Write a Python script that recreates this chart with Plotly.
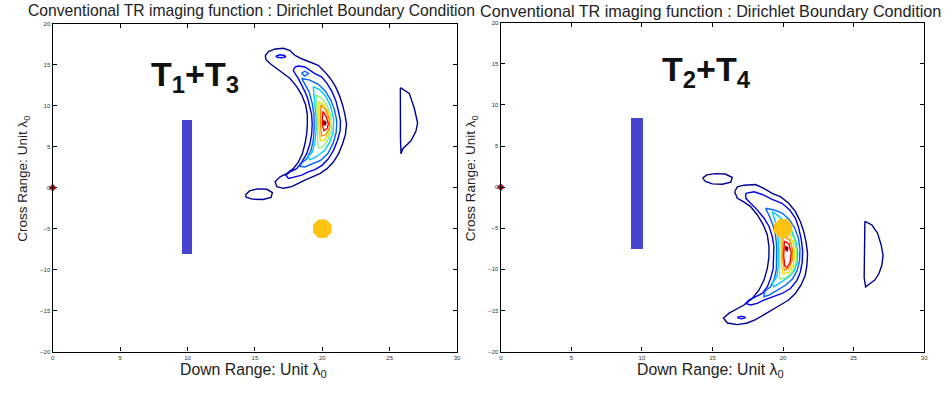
import plotly.graph_objects as go

FONT = "Liberation Sans, Arial, sans-serif"

# Axis ticks (units of wavelength)
X_TICKS = [0, 5, 10, 15, 20, 25, 30]
Y_TICKS = [-20, -15, -10, -5, 0, 5, 10, 15, 20]

# Scatterer geometry: plate (x centre, width, y bottom, y top), point target, array reference
LEFT_PLATE = (9.95, 0.75, -8.1, 8.35)
RIGHT_PLATE = (9.65, 0.85, -7.5, 8.5)
TARGET = (20.0, -5.0)
ORIGIN = (0.0, 0.0)

# Contour level colours, outermost to innermost
LEVEL_COLORS = ["#00008f", "#0000f0", "#0064ff", "#00ccff", "#8ef07a",
                "#e8e000", "#ff8a00", "#ff0000", "#8b0000"]

# ---- T1+T3 image: contour rings (down range, cross range) ----
L_NAVY = [(15.77, 16.12), (16.01, 16.60), (16.50, 16.92), (17.12, 17.00), (17.61, 16.72),
          (17.98, 16.12), (18.47, 15.72), (19.08, 15.32), (19.70, 14.92), (20.19, 14.12),
          (20.60, 13.32), (20.98, 12.32), (21.25, 11.32), (21.50, 10.12), (21.68, 8.92),
          (21.80, 7.72), (21.72, 6.52), (21.50, 5.32), (21.20, 4.12), (20.82, 3.12),
          (20.35, 2.32), (19.82, 1.72), (19.21, 1.32), (18.71, 0.92), (18.22, 0.52),
          (17.73, 0.12), (17.12, -0.08), (16.63, 0.12), (16.50, 0.72), (16.87, 1.32),
          (17.36, 1.72), (17.85, 2.32), (18.22, 3.12), (18.52, 4.12), (18.71, 5.32),
          (18.84, 6.52), (18.89, 7.72), (18.89, 8.92), (18.76, 10.12), (18.47, 11.32),
          (18.10, 12.32), (17.61, 13.32), (17.12, 13.92), (16.63, 14.52), (16.14, 15.12),
          (15.82, 15.64)]
L_NAVY_BLOB = [(14.3, -0.9), (14.6, -0.4), (15.2, -0.15), (15.9, -0.2), (16.3, -0.6),
               (16.2, -1.2), (15.6, -1.45), (14.8, -1.4), (14.35, -1.15)]
L_NAVY_ARC = [(25.79, 12.2), (26.45, 11.5), (26.82, 9.71), (27.07, 7.91), (26.95, 6.91),
              (26.58, 5.71), (25.96, 4.72), (25.84, 4.12), (25.80, 6.0), (25.78, 9.0),
              (25.79, 12.2)]
L_BLUE = [(17.98, 14.72), (18.22, 14.84), (18.71, 14.72), (19.08, 14.32), (19.45, 13.92),
          (19.94, 13.52), (20.35, 12.72), (20.72, 11.72), (21.02, 10.52), (21.20, 9.32),
          (21.35, 8.12), (21.32, 6.92), (21.12, 5.72), (20.82, 4.52), (20.45, 3.52),
          (19.98, 2.72), (19.45, 2.20), (18.96, 1.92), (18.47, 1.52), (17.98, 1.32),
          (17.49, 1.12), (17.29, 1.52), (17.61, 1.92), (18.10, 2.32), (18.47, 3.12),
          (18.84, 4.12), (19.08, 5.32), (19.21, 6.52), (19.25, 7.72), (19.21, 8.92),
          (19.08, 9.92), (18.91, 10.92), (18.71, 11.72), (18.47, 12.52), (18.22, 13.32),
          (17.98, 13.92), (17.85, 14.32)]
L_BLUE_BLOB = [(16.55, 16.05), (16.85, 16.2), (17.2, 16.12), (17.3, 15.95), (17.0, 15.85),
               (16.65, 15.9)]
L_AZURE = [(18.47, 13.32), (19.08, 13.12), (19.70, 12.60), (20.22, 11.80), (20.62, 10.72),
           (20.90, 9.52), (21.08, 8.12), (21.03, 6.72), (20.80, 5.40), (20.40, 4.12),
           (19.86, 3.32), (19.21, 2.84), (18.71, 2.52), (18.35, 2.60), (18.47, 3.00),
           (18.84, 3.52), (19.16, 4.52), (19.33, 5.72), (19.40, 7.32), (19.38, 8.92),
           (19.25, 10.32), (19.01, 11.72), (18.71, 12.72)]
L_AZURE_BLOB = [(18.45, 13.95), (18.7, 14.2), (18.98, 13.95), (18.7, 13.6)]
L_CYAN = [(19.33, 12.32), (19.82, 11.92), (20.26, 11.12), (20.62, 9.92), (20.85, 8.32),
          (20.80, 6.72), (20.55, 5.52), (20.15, 4.52), (19.58, 3.80), (19.08, 3.40),
          (18.91, 3.72), (19.26, 4.32), (19.45, 5.52), (19.55, 7.12), (19.53, 8.72),
          (19.45, 10.32), (19.35, 11.72)]
L_GREEN = [(19.53, 11.32), (19.94, 10.92), (20.33, 10.12), (20.62, 8.72), (20.68, 7.12),
           (20.45, 5.92), (20.05, 4.99), (19.70, 4.84), (19.65, 5.72), (19.65, 7.32),
           (19.62, 8.92), (19.58, 10.32)]
L_YELLOW = [(19.75, 10.52), (20.11, 10.12), (20.45, 9.12), (20.58, 7.72), (20.48, 6.52),
            (20.14, 5.80), (19.85, 5.72), (19.77, 6.92), (19.75, 8.72)]
L_ORANGE = [(19.89, 10.12), (20.24, 9.52), (20.50, 8.44), (20.52, 7.24), (20.26, 6.44),
            (19.94, 6.32), (19.87, 7.52), (19.87, 9.12)]
L_RED = [(20.05, 9.3), (20.3, 8.6), (20.45, 7.8), (20.35, 7.2), (20.12, 6.95), (20.0, 7.7),
         (20.02, 8.6)]
L_PEAK = [(20.1, 8.2), (20.28, 7.95), (20.22, 7.65), (20.08, 7.7)]

# ---- T2+T4 image: contour rings ----
R_NAVY = [(16.57, -0.56), (16.76, 0.04), (17.23, 0.24), (18.05, 0.32), (18.64, -0.16),
          (19.23, -0.76), (19.81, -1.16), (20.40, -1.96), (20.87, -2.95), (21.22, -4.15),
          (21.46, -5.35), (21.64, -6.75), (21.74, -8.14), (21.69, -9.54), (21.57, -10.74),
          (21.27, -11.93), (20.87, -12.93), (20.40, -13.73), (19.81, -14.33), (19.23, -14.92),
          (18.64, -15.52), (18.05, -16.12), (17.47, -16.52), (16.76, -16.72), (16.06, -16.52),
          (15.78, -15.92), (16.18, -15.32), (16.65, -14.92), (17.23, -14.33), (17.82, -13.53),
          (18.29, -12.53), (18.64, -11.33), (18.88, -9.94), (19.00, -8.54), (19.00, -7.14),
          (18.88, -5.75), (18.59, -4.55), (18.17, -3.35), (17.70, -2.36), (17.19, -1.76),
          (16.76, -1.36)]
R_NAVY_BLOB = [(14.3, 1.1), (14.6, 1.5), (15.2, 1.65), (15.9, 1.6), (16.4, 1.2), (16.3, 0.6),
               (15.7, 0.36), (15.0, 0.4), (14.5, 0.7)]
R_NAVY_ARC = [(25.80, -4.15), (26.3, -4.6), (26.7, -5.6), (26.95, -7.0), (27.09, -8.3),
              (27.0, -9.5), (26.8, -10.5), (26.5, -11.3), (26.1, -11.8), (25.85, -12.13),
              (25.75, -11.0), (25.78, -8.0), (25.80, -5.0), (25.80, -4.15)]
R_BLUE = [(17.35, -0.76), (17.94, -0.56), (18.64, -0.96), (19.23, -1.48), (19.93, -1.96),
          (20.47, -2.76), (20.87, -3.75), (21.11, -4.95), (21.29, -6.35), (21.39, -7.74),
          (21.36, -9.14), (21.22, -10.34), (20.99, -11.33), (20.52, -12.33), (19.93, -12.93),
          (19.23, -13.33), (18.64, -13.73), (18.17, -14.13), (17.70, -14.33), (17.35, -14.13),
          (17.58, -13.73), (18.05, -13.33), (18.52, -12.93), (18.88, -12.13), (19.11, -11.13),
          (19.30, -9.94), (19.35, -8.54), (19.35, -7.14), (19.23, -5.95), (19.00, -4.75),
          (18.64, -3.75), (18.17, -2.76), (17.70, -1.96), (17.37, -1.36)]
R_BLUE_BLOB = [(16.75, -15.85), (17.05, -15.7), (17.35, -15.85), (17.05, -16.0)]
R_AZURE = [(18.76, -2.56), (19.35, -2.76), (19.93, -3.15), (20.45, -3.95), (20.82, -4.95),
           (21.08, -6.15), (21.20, -7.54), (21.17, -8.94), (21.00, -10.14), (20.68, -11.13),
           (20.17, -11.93), (19.58, -12.53), (19.00, -13.13), (18.64, -13.33), (18.69, -12.73),
           (19.11, -12.13), (19.39, -11.13), (19.53, -9.94), (19.55, -8.54), (19.55, -7.14),
           (19.46, -5.75), (19.27, -4.55), (18.99, -3.35)]
R_CYAN = [(19.23, -2.95), (19.70, -3.55), (20.22, -4.35), (20.62, -5.35), (20.90, -6.55),
          (21.05, -7.94), (21.00, -9.14), (20.80, -10.14), (20.40, -10.93), (19.88, -11.53),
          (19.35, -12.13), (19.23, -11.73), (19.55, -10.93), (19.66, -9.74), (19.68, -8.34),
          (19.68, -6.94), (19.62, -5.55), (19.48, -4.35), (19.30, -3.35)]
R_GREEN = [(19.75, -4.6), (20.33, -5.07), (20.78, -6.27), (20.96, -7.74), (20.92, -9.14),
           (20.66, -10.34), (20.17, -11.05), (19.75, -11.13), (19.74, -9.74), (19.78, -8.14),
           (19.78, -6.55), (19.76, -5.35)]
R_YELLOW = [(19.88, -5.23), (20.38, -5.63), (20.71, -6.75), (20.82, -8.14), (20.73, -9.46),
            (20.42, -10.34), (20.00, -10.54), (19.88, -9.34), (19.88, -7.74), (19.87, -6.35)]
R_ORANGE = [(20.00, -5.95), (20.47, -6.43), (20.68, -7.62), (20.64, -8.94), (20.42, -9.90),
            (20.10, -10.10), (19.97, -8.74), (19.97, -7.14)]
R_RED = [(20.10, -6.55), (20.42, -6.94), (20.58, -7.94), (20.50, -9.14), (20.28, -9.80),
         (20.12, -9.54), (20.05, -8.34), (20.06, -7.22)]
R_PEAK = [(20.2, -7.2), (20.35, -7.4), (20.3, -7.75), (20.18, -7.6)]

LEFT_RINGS = [(L_NAVY, 0), (L_NAVY_BLOB, 0), (L_NAVY_ARC, 0), (L_BLUE, 1), (L_BLUE_BLOB, 1),
              (L_AZURE, 2), (L_AZURE_BLOB, 2), (L_CYAN, 3), (L_GREEN, 4), (L_YELLOW, 5),
              (L_ORANGE, 6), (L_RED, 7), (L_PEAK, 8)]
RIGHT_RINGS = [(R_NAVY, 0), (R_NAVY_BLOB, 0), (R_NAVY_ARC, 0), (R_BLUE, 1), (R_BLUE_BLOB, 1),
               (R_AZURE, 2), (R_CYAN, 3), (R_GREEN, 4), (R_YELLOW, 5), (R_ORANGE, 6),
               (R_RED, 7), (R_PEAK, 8)]

TITLE = "Conventional TR imaging function : Dirichlet Boundary Condition"
X_TITLE = "Down Range: Unit λ<sub>0</sub>"
Y_TITLE = "Cross Range: Unit λ<sub>0</sub>"
PAIR_LABELS = ["T<sub>1</sub>+T<sub>3</sub>", "T<sub>2</sub>+T<sub>4</sub>"]

W, H = 950, 395
PANELS = [
    dict(xd=[51 / W, 458 / W], yd=[1 - 354 / H, 1 - 21 / H], rings=LEFT_RINGS, plate=LEFT_PLATE,
         title_x=251.5 / W, title_size=15.7, ytitle_x=21.5 / W, xtitle_x=253.5 / W,
         label_x=194 / W, label_y=1 - 75 / H),
    dict(xd=[502 / W, 928 / W], yd=[1 - 354 / H, 1 - 20 / H], rings=RIGHT_RINGS, plate=RIGHT_PLATE,
         title_x=713.5 / W, title_size=16.2, ytitle_x=472 / W, xtitle_x=713.5 / W,
         label_x=709 / W, label_y=1 - 70 / H),
]

fig = go.Figure()
annotations = []

for i, p in enumerate(PANELS):
    xa = "x" if i == 0 else "x2"
    ya = "y" if i == 0 else "y2"

    # plate scatterer
    cx, w, y0, y1 = p["plate"]
    fig.add_trace(go.Bar(x=[cx], y=[y1 - y0], base=[y0], width=[w], marker_color="#4646cf",
                         marker_line_width=0, xaxis=xa, yaxis=ya, showlegend=False))

    # contour lines
    for pts, lvl in p["rings"]:
        xs = [q[0] for q in pts] + [pts[0][0]]
        ys = [q[1] for q in pts] + [pts[0][1]]
        col = LEVEL_COLORS[lvl]
        fig.add_trace(go.Scatter(x=xs, y=ys, mode="lines", line=dict(color=col, width=1.4),
                                 fill="toself" if lvl == 8 else None,
                                 fillcolor=col if lvl == 8 else None,
                                 xaxis=xa, yaxis=ya, showlegend=False, hoverinfo="skip"))

    # point target
    fig.add_trace(go.Scatter(x=[TARGET[0]], y=[TARGET[1]], mode="markers",
                             marker=dict(symbol="octagon", size=20, color="#ffc412",
                                         line=dict(width=0)),
                             xaxis=xa, yaxis=ya, showlegend=False))
    # array reference point
    fig.add_trace(go.Scatter(x=[ORIGIN[0]], y=[ORIGIN[1]], mode="markers",
                             marker=dict(symbol="diamond", size=6, color="#e00000"),
                             cliponaxis=False, xaxis=xa, yaxis=ya, showlegend=False))

    axis_common = dict(showline=True, linecolor="black", linewidth=1.4, mirror="ticks",
                       ticks="inside", ticklen=4, tickwidth=1, tickcolor="black",
                       showgrid=False, zeroline=False,
                       tickfont=dict(family=FONT, size=6, color="#333"))
    fig.update_layout(**{
        ("xaxis" if i == 0 else "xaxis2"): dict(domain=p["xd"], range=[0, 30], tickvals=X_TICKS,
                                                anchor=ya, **axis_common),
        ("yaxis" if i == 0 else "yaxis2"): dict(domain=p["yd"], range=[-20, 20], tickvals=Y_TICKS,
                                                anchor=xa, **axis_common),
    })

    annotations += [
        dict(text=TITLE, x=p["title_x"], y=1 - 8 / H, xref="paper", yref="paper",
             xanchor="center", yanchor="middle", showarrow=False,
             font=dict(family=FONT, size=p["title_size"], color="#222")),
        dict(text=Y_TITLE, x=p["ytitle_x"], y=1 - 178 / H, xref="paper", yref="paper",
             xanchor="center", yanchor="middle", textangle=-90, showarrow=False,
             font=dict(family=FONT, size=13.5, color="#222")),
        dict(text=X_TITLE, x=p["xtitle_x"], y=1 - 373 / H, xref="paper", yref="paper",
             xanchor="center", yanchor="middle", showarrow=False,
             font=dict(family=FONT, size=15.8, color="#222")),
        dict(text="<b>" + PAIR_LABELS[i] + "</b>", x=p["label_x"], y=p["label_y"],
             xref="paper", yref="paper", xanchor="center", yanchor="middle", showarrow=False,
             font=dict(family=FONT, size=34, color="#111")),
    ]

fig.update_layout(width=W, height=H, margin=dict(l=0, r=0, t=0, b=0),
                  paper_bgcolor="white", plot_bgcolor="white", annotations=annotations,
                  showlegend=False, bargap=0)

fig.write_html("out.html")
